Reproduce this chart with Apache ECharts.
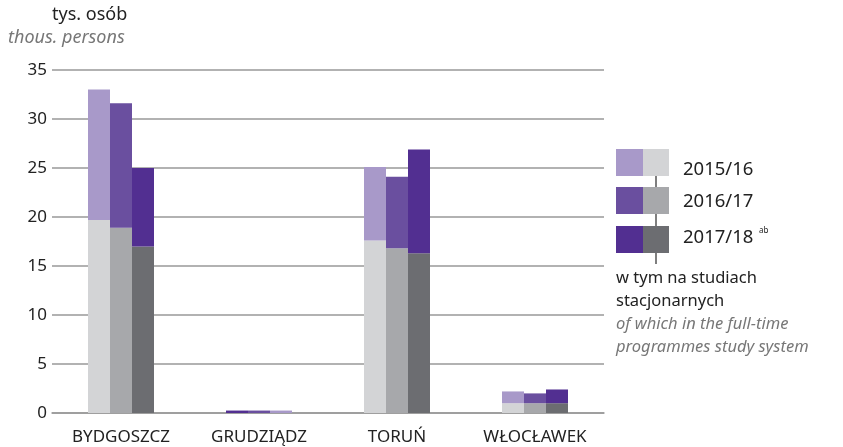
<!DOCTYPE html>
<html>
<head>
<meta charset="utf-8">
<script src="https://cdn.jsdelivr.net/npm/echarts@6/dist/echarts.min.js"></script>
<style>
  html, body { margin: 0; padding: 0; background: #fff; }
  #chart { width: 843px; height: 447px; }
</style>
</head>
<body>
<div id="chart"></div>
<script>
// 城市
const cities = ['BYDGOSZCZ', 'GRUDZIĄDZ', 'TORUŃ', 'WŁOCŁAWEK']
const years = ['2015/16', '2016/17', '2017/18']
// 总数 (tys. osób)
const total1516 = [33.0, 0.25, 25.1, 2.2]
const total1617 = [31.6, 0.25, 24.1, 2.0]
const total1718 = [25.0, 0.25, 26.9, 2.4]
// 其中全日制
const full1516 = [19.7, 0, 17.6, 1.0]
const full1617 = [18.9, 0, 16.8, 1.0]
const full1718 = [17.0, 0, 16.3, 1.0]

const yTicks = [0, 5, 10, 15, 20, 25, 30, 35]

const purples = ['#a899c9', '#6a4f9f', '#522f91']
const greys = ['#d3d4d6', '#a7a8ab', '#6c6d71']

const totals = [total1516, total1617, total1718]
const fulls = [full1516, full1617, full1718]

const font = '"Noto Sans", sans-serif'

const series = []
years.forEach((y, i) => {
  // 灰色 全日制
  series.push({
    name: y + ' ft',
    type: 'bar',
    stack: 's' + i,
    barWidth: 22,
    barGap: '0%',
    itemStyle: { color: greys[i] },
    data: fulls[i]
  })
  // 紫色 其余
  series.push({
    name: y,
    type: 'bar',
    stack: 's' + i,
    barWidth: 22,
    barGap: '0%',
    data: totals[i].map((v, k) => {
      const item = { value: +(v - fulls[i][k]).toFixed(2) }
      // Grudziądz 颜色顺序相反
      if (k === 1) item.itemStyle = { color: purples[2 - i] }
      return item
    }),
    itemStyle: { color: purples[i] }
  })
})

// 文字
function txt(x, y, text, size, style, color) {
  return {
    type: 'text', x: x, y: y,
    style: { text: text, font: style + ' ' + size + 'px ' + font, fill: color, verticalAlign: 'middle' }
  }
}

// 图例
const graphics = []
const rowTop = [149, 187, 226]
const yearTextY = [170, 202, 238]
years.forEach((y, i) => {
  graphics.push({ type: 'rect', shape: { x: 616, y: rowTop[i], width: 27, height: 27 }, style: { fill: purples[i] } })
  graphics.push({ type: 'rect', shape: { x: 643, y: rowTop[i], width: 26, height: 27 }, style: { fill: greys[i] } })
  graphics.push(txt(683, yearTextY[i], y, 18.5, 'normal', '#222'))
})
graphics.push(txt(759, 231, 'ab', 8, 'normal', '#222'))
graphics.push({ type: 'line', shape: { x1: 656, y1: 176, x2: 656, y2: 187 }, style: { stroke: '#555', lineWidth: 1.5 } })
graphics.push({ type: 'line', shape: { x1: 656, y1: 214, x2: 656, y2: 226 }, style: { stroke: '#555', lineWidth: 1.5 } })
graphics.push({ type: 'line', shape: { x1: 656, y1: 253, x2: 656, y2: 264 }, style: { stroke: '#555', lineWidth: 1.5 } })
const noteLines = [
  ['w tym na studiach', 'normal', '#222'],
  ['stacjonarnych', 'normal', '#222'],
  ['of which in the full-time', 'italic', '#777'],
  ['programmes study system', 'italic', '#777']
]
const noteY = [278, 301, 324, 347]
noteLines.forEach((l, i) => {
  graphics.push(txt(616, noteY[i], l[0], 16.5, l[1], l[2]))
})
// 单位
graphics.push(txt(52, 15, 'tys. osób', 18, 'normal', '#222'))
graphics.push(txt(8, 38, 'thous. persons', 18, 'italic', '#777'))

const myChart = echarts.init(document.querySelector('#chart'))
const option = {
  animation: false,
  textStyle: { fontFamily: font },
  grid: { left: 52, right: 239, top: 70, bottom: 34, containLabel: false },
  xAxis: {
    type: 'category',
    data: cities,
    axisTick: { show: false },
    axisLine: { lineStyle: { color: '#999', width: 1.5 } },
    axisLabel: { color: '#222', fontSize: 17, margin: 16, interval: 0 }
  },
  yAxis: {
    type: 'value',
    min: yTicks[0],
    max: yTicks[yTicks.length - 1],
    interval: 5,
    axisLine: { show: false },
    axisTick: { show: false },
    axisLabel: { color: '#222', fontSize: 17, margin: 5 },
    splitLine: { lineStyle: { color: '#999', width: 1.5 } }
  },
  series: series,
  graphic: graphics
}
myChart.setOption(option)
</script>
</body>
</html>
